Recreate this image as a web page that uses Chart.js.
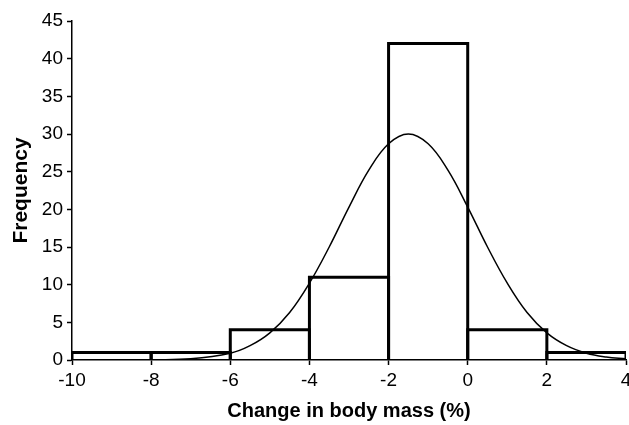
<!DOCTYPE html>
<html>
<head>
<meta charset="utf-8">
<script src="https://cdn.jsdelivr.net/npm/chart.js@4"></script>
<style>
  html, body { margin: 0; padding: 0; background: #fff; }
  #wrap { width: 629px; height: 425px; }
</style>
</head>
<body>
<div id="wrap"><canvas id="histChart"></canvas></div>
<script>
// histogram bins (2% wide) and counts
const binStarts = [-10, -8, -6, -4, -2, 0, 2];
const binWidth = 2;
const binCounts = [1, 1, 4, 11, 42, 4, 1];

// fitted normal curve
const curveX = [-8, -7, -6, -5.5, -5, -4.5, -4, -3.5, -3, -2.5, -2, -1.5, -1, -0.5, 0, 0.5, 1, 1.5, 2, 2.5, 3, 3.5, 4];
const curveY = [0.02, 0.16, 0.9, 1.9, 3.6, 6.3, 10.2, 15, 20.3, 25.2, 28.7, 30, 28.7, 25.2, 20.3, 15, 10.2, 6.3, 3.6, 1.9, 0.9, 0.4, 0.16];

const xTicks = [-10, -8, -6, -4, -2, 0, 2, 4];

const fontFamily = '"Liberation Sans", Arial, sans-serif';

document.addEventListener('DOMContentLoaded', function() {
    const ctx = document.getElementById('histChart').getContext('2d');

    // outline of every bin: up the left side, across the top, down the right side
    const outline = [];
    binStarts.forEach((x0, i) => {
        const x1 = x0 + binWidth;
        outline.push({ x: x0, y: 0 }, { x: x0, y: binCounts[i] }, { x: x1, y: binCounts[i] }, { x: x1, y: 0 });
    });

    new Chart(ctx, {
        type: 'bar',
        data: {
            datasets: [
                {
                    type: 'line',
                    label: 'Normal fit',
                    data: curveX.map((x, i) => ({ x: x, y: curveY[i] })),
                    borderColor: '#000',
                    borderWidth: 1.5,
                    pointRadius: 0,
                    tension: 0.4,
                    fill: false,
                    order: 0
                },
                {
                    type: 'line',
                    label: 'Bin outline',
                    data: outline,
                    borderColor: '#000',
                    borderWidth: 3,
                    borderJoinStyle: 'miter',
                    borderCapStyle: 'square',
                    pointRadius: 0,
                    tension: 0,
                    fill: false,
                    segment: {
                        // no stroke along the baseline, the axis is already there
                        borderColor: s => (s.p0.parsed.y === 0 && s.p1.parsed.y === 0) ? 'rgba(0,0,0,0)' : '#000'
                    },
                    order: 1
                },
                {
                    label: 'Frequency',
                    data: binStarts.map((x0, i) => ({ x: x0 + binWidth / 2, y: binCounts[i] })),
                    backgroundColor: '#fff',
                    borderWidth: 0,
                    inflateAmount: 0,
                    barPercentage: 1,
                    categoryPercentage: 1,
                    order: 2
                }
            ]
        },
        options: {
            responsive: true,
            maintainAspectRatio: false,
            animation: false,
            layout: {
                padding: { left: 0, right: 3, top: 21, bottom: 0 }
            },
            plugins: {
                legend: { display: false },
                tooltip: { enabled: false }
            },
            scales: {
                x: {
                    type: 'linear',
                    min: -10,
                    max: 4,
                    offset: false,
                    afterBuildTicks: function(axis) {
                        axis.ticks = xTicks.map(v => ({ value: v }));
                    },
                    afterFit: function(scale) {
                        scale.height = 65;
                        scale.paddingLeft = 0;
                        scale.paddingRight = 0;
                    },
                    grid: {
                        display: true,
                        drawOnChartArea: false,
                        drawTicks: true,
                        tickLength: 5,
                        tickWidth: 1.5,
                        tickColor: '#000',
                        offset: false
                    },
                    border: { color: '#000', width: 1.5, z: 1 },
                    ticks: {
                        color: '#000',
                        font: { family: fontFamily, size: 19 },
                        padding: 4,
                        maxRotation: 0
                    },
                    title: {
                        display: true,
                        text: 'Change in body mass (%)',
                        color: '#000',
                        font: { family: fontFamily, size: 20, weight: 'bold' },
                        padding: { top: 0, bottom: 2 }
                    }
                },
                y: {
                    min: 0,
                    max: 45,
                    afterFit: function(scale) {
                        scale.width = 72;
                        scale.paddingTop = 0;
                        scale.paddingBottom = 0;
                    },
                    ticks: {
                        stepSize: 5,
                        color: '#000',
                        font: { family: fontFamily, size: 19 },
                        padding: 4
                    },
                    grid: {
                        display: true,
                        drawOnChartArea: false,
                        drawTicks: true,
                        tickLength: 5,
                        tickWidth: 1.5,
                        tickColor: '#000'
                    },
                    border: { color: '#000', width: 1.5 },
                    title: {
                        display: true,
                        text: 'Frequency',
                        color: '#000',
                        font: { family: fontFamily, size: 21, weight: 'bold' },
                        padding: { top: 9, bottom: 0 }
                    }
                }
            }
        }
    });
});
</script>
</body>
</html>
